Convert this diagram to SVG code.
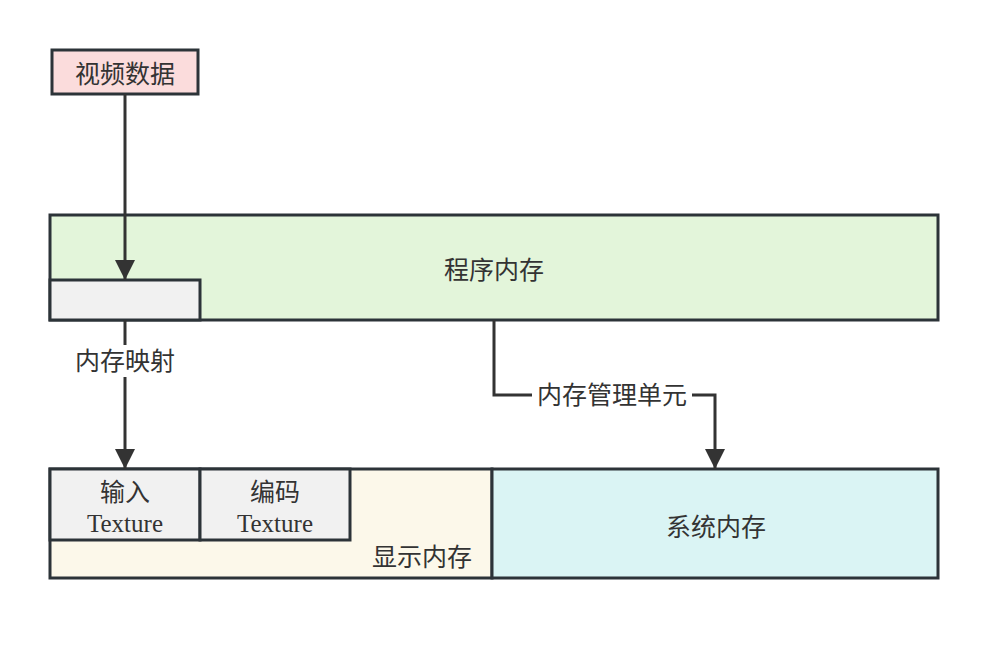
<svg xmlns="http://www.w3.org/2000/svg" width="988" height="645" viewBox="0 0 988 645">
<style>
.n{stroke:#2c3338;stroke-width:3}
.t{font-family:"Liberation Serif","Noto Sans CJK SC",serif;font-size:25px;fill:#333;text-anchor:middle}
.e{fill:none;stroke:#333;stroke-width:3}
</style>
<defs>
<marker id="ah" viewBox="0 0 20 24" refX="20" refY="12" markerWidth="20" markerHeight="24" markerUnits="userSpaceOnUse" orient="auto">
<path d="M0,2 L20,12 L0,22 Z" fill="#333"/>
</marker>
</defs>
<rect width="988" height="645" fill="#fff"/>
<g id="prog">
<rect class="n" x="50" y="215" width="888" height="105" fill="#e3f5da"/>
<text class="t" x="494" y="279">程序内存</text>
</g>
<g id="map">
<rect class="n" x="50" y="280" width="150" height="40" fill="#f1f1f1"/>
</g>
<g id="disp">
<rect class="n" x="50" y="469" width="442" height="109" fill="#fcf8ea"/>
<text class="t" x="422" y="566">显示内存</text>
</g>
<g id="sys">
<rect class="n" x="492" y="469" width="446" height="109" fill="#daf4f4"/>
<text class="t" x="716" y="536">系统内存</text>
</g>
<g id="in">
<rect class="n" x="50" y="469" width="150" height="71" fill="#f1f1f1"/>
<text class="t" x="125" y="501">输入</text>
<text class="t" x="125" y="532">Texture</text>
</g>
<g id="enc">
<rect class="n" x="200" y="469" width="150" height="71" fill="#f1f1f1"/>
<text class="t" x="275" y="501">编码</text>
<text class="t" x="275" y="532">Texture</text>
</g>
<g id="video">
<rect class="n" x="52" y="50" width="146" height="44" fill="#fbdcdc"/>
<text class="t" x="125" y="83">视频数据</text>
</g>
<g id="edges">
<path class="e" d="M125,94 V280" marker-end="url(#ah)"/>
<path class="e" d="M125,320 V469" marker-end="url(#ah)"/>
<rect x="72" y="345" width="106" height="32" fill="#fff"/>
<text class="t" x="125" y="370">内存映射</text>
<path class="e" d="M494,320 V395 H715 V469" marker-end="url(#ah)"/>
<rect x="532" y="380" width="160" height="32" fill="#fff"/>
<text class="t" x="612" y="404">内存管理单元</text>
</g>
</svg>
